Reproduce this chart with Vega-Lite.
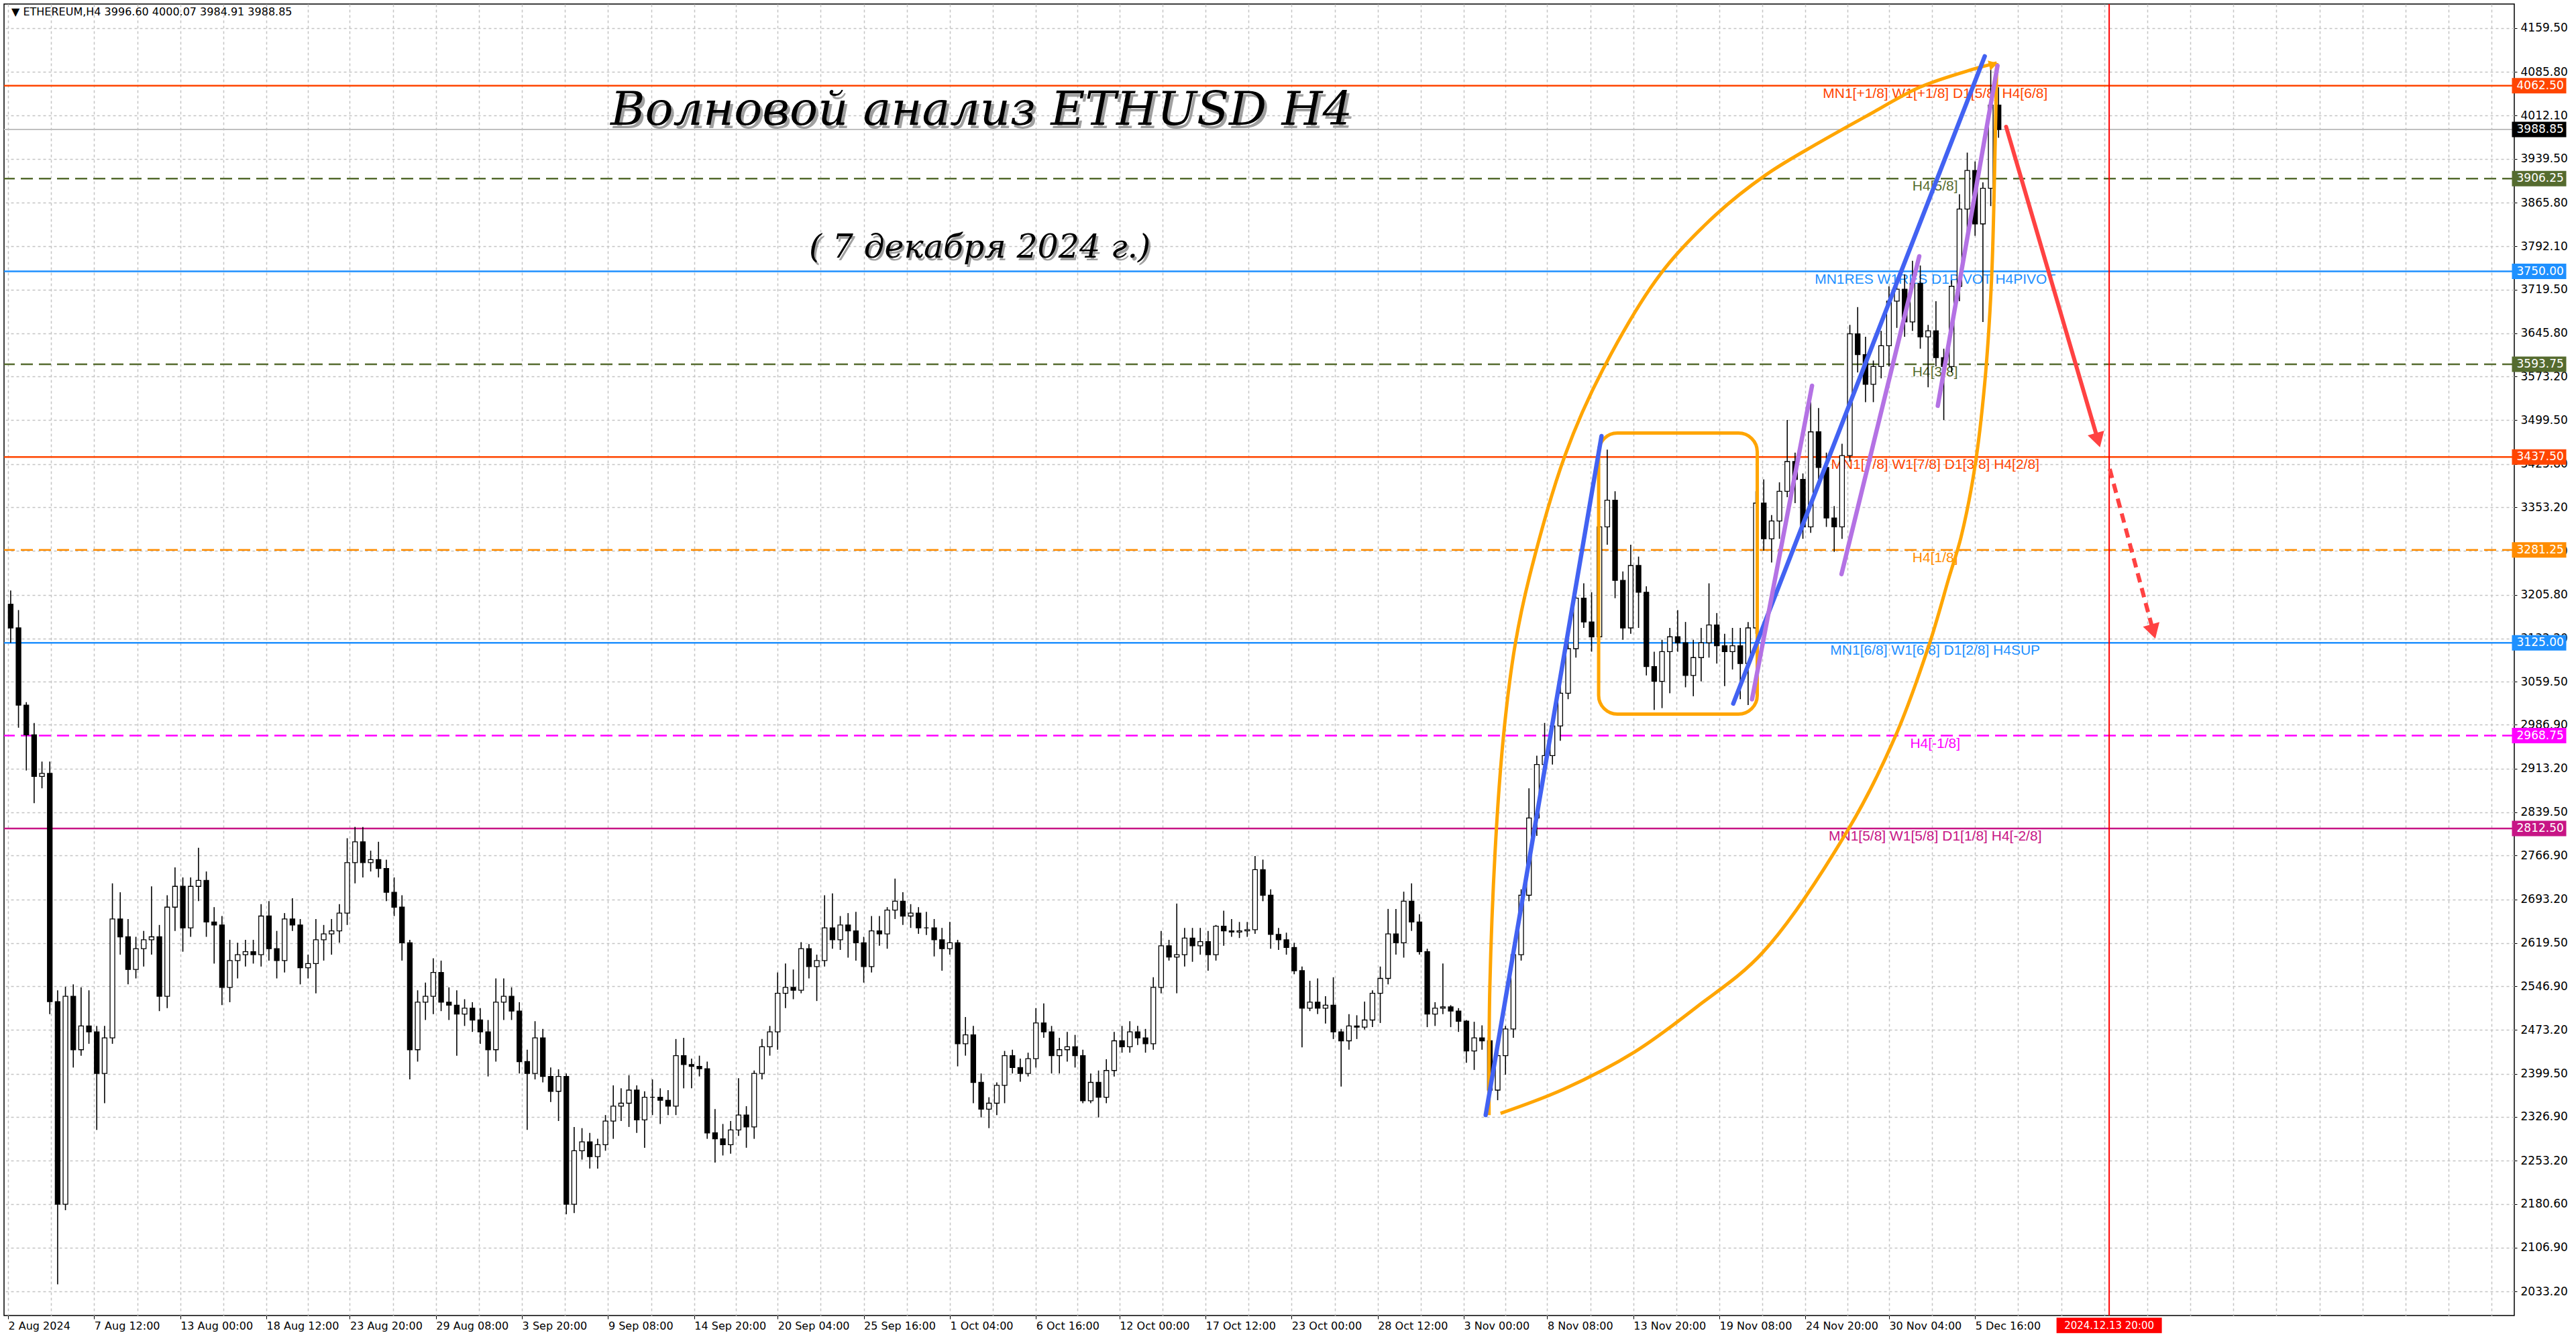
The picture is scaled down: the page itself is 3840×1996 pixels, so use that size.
{
  "$schema": "https://vega.github.io/schema/vega-lite/v6.json",
  "width": 3742,
  "height": 1955,
  "padding": {"left": 4, "top": 5, "right": 0, "bottom": 0},
  "background": "#ffffff",
  "config": {
    "view": {"stroke": "#000000", "strokeWidth": 1.5},
    "axis": {
      "labelFont": "DejaVu Sans",
      "labelColor": "#000000",
      "domain": false,
      "tickColor": "#000000",
      "gridColor": "#c4c4c4",
      "gridDash": [4, 4],
      "gridWidth": 1.5
    }
  },
  "datasets": {
    "candles": [
      {"i":1,"o":3190,"h":3213,"l":3125,"c":3150},{"i":4,"o":3150,"h":3180,"l":2982,"c":3020},{"i":7,"o":3020,"h":3025,"l":2910,"c":2970},
      {"i":10,"o":2970,"h":2990,"l":2855,"c":2900},{"i":13,"o":2900,"h":2925,"l":2880,"c":2905},{"i":16,"o":2905,"h":2925,"l":2500,"c":2521},
      {"i":19,"o":2521,"h":2540,"l":2045,"c":2180},{"i":22,"o":2180,"h":2546,"l":2170,"c":2530},{"i":25,"o":2530,"h":2550,"l":2410,"c":2440},
      {"i":28,"o":2440,"h":2545,"l":2430,"c":2480},{"i":31,"o":2480,"h":2540,"l":2450,"c":2470},{"i":34,"o":2470,"h":2480,"l":2305,"c":2400},
      {"i":37,"o":2400,"h":2480,"l":2350,"c":2460},{"i":40,"o":2460,"h":2720,"l":2450,"c":2660},{"i":43,"o":2660,"h":2705,"l":2600,"c":2630},
      {"i":46,"o":2630,"h":2660,"l":2550,"c":2575},{"i":49,"o":2575,"h":2630,"l":2560,"c":2610},{"i":52,"o":2610,"h":2640,"l":2580,"c":2625},
      {"i":55,"o":2625,"h":2715,"l":2600,"c":2630},{"i":58,"o":2630,"h":2650,"l":2505,"c":2530},{"i":61,"o":2530,"h":2700,"l":2510,"c":2680},
      {"i":64,"o":2680,"h":2747,"l":2640,"c":2715},{"i":67,"o":2715,"h":2730,"l":2605,"c":2645},{"i":70,"o":2645,"h":2730,"l":2630,"c":2715},
      {"i":73,"o":2715,"h":2780,"l":2690,"c":2725},{"i":76,"o":2725,"h":2740,"l":2630,"c":2655},{"i":79,"o":2655,"h":2680,"l":2585,"c":2650},
      {"i":82,"o":2650,"h":2665,"l":2515,"c":2545},{"i":85,"o":2545,"h":2625,"l":2520,"c":2590},{"i":88,"o":2590,"h":2620,"l":2560,"c":2600},
      {"i":91,"o":2600,"h":2625,"l":2580,"c":2605},{"i":94,"o":2605,"h":2625,"l":2585,"c":2600},{"i":97,"o":2600,"h":2685,"l":2580,"c":2665},
      {"i":100,"o":2665,"h":2690,"l":2590,"c":2610},{"i":103,"o":2610,"h":2640,"l":2560,"c":2590},{"i":106,"o":2590,"h":2670,"l":2570,"c":2660},
      {"i":109,"o":2660,"h":2695,"l":2640,"c":2650},{"i":112,"o":2650,"h":2660,"l":2550,"c":2578},{"i":115,"o":2578,"h":2600,"l":2560,"c":2585},
      {"i":118,"o":2585,"h":2660,"l":2535,"c":2625},{"i":121,"o":2625,"h":2650,"l":2590,"c":2635},{"i":124,"o":2635,"h":2660,"l":2600,"c":2640},
      {"i":127,"o":2640,"h":2685,"l":2620,"c":2670},{"i":130,"o":2670,"h":2796,"l":2650,"c":2755},{"i":133,"o":2755,"h":2815,"l":2720,"c":2790},
      {"i":136,"o":2790,"h":2815,"l":2730,"c":2755},{"i":139,"o":2755,"h":2775,"l":2740,"c":2760},{"i":142,"o":2760,"h":2790,"l":2730,"c":2745},
      {"i":145,"o":2745,"h":2760,"l":2690,"c":2705},{"i":148,"o":2705,"h":2730,"l":2665,"c":2680},{"i":151,"o":2680,"h":2700,"l":2590,"c":2620},
      {"i":154,"o":2620,"h":2625,"l":2390,"c":2440},{"i":157,"o":2440,"h":2540,"l":2420,"c":2520},{"i":160,"o":2520,"h":2553,"l":2490,"c":2530},
      {"i":163,"o":2530,"h":2594,"l":2500,"c":2570},{"i":166,"o":2570,"h":2590,"l":2505,"c":2520},{"i":169,"o":2520,"h":2545,"l":2490,"c":2515},
      {"i":172,"o":2515,"h":2540,"l":2430,"c":2500},{"i":175,"o":2500,"h":2525,"l":2480,"c":2510},{"i":178,"o":2510,"h":2520,"l":2470,"c":2490},
      {"i":181,"o":2490,"h":2510,"l":2450,"c":2470},{"i":184,"o":2470,"h":2490,"l":2395,"c":2440},{"i":187,"o":2440,"h":2560,"l":2420,"c":2520},
      {"i":190,"o":2520,"h":2560,"l":2490,"c":2530},{"i":193,"o":2530,"h":2545,"l":2490,"c":2505},{"i":196,"o":2505,"h":2520,"l":2400,"c":2420},
      {"i":199,"o":2420,"h":2440,"l":2305,"c":2400},{"i":202,"o":2400,"h":2488,"l":2390,"c":2460},{"i":205,"o":2460,"h":2475,"l":2385,"c":2395},
      {"i":208,"o":2395,"h":2410,"l":2352,"c":2370},{"i":211,"o":2370,"h":2407,"l":2320,"c":2395},{"i":214,"o":2395,"h":2400,"l":2163,"c":2180},
      {"i":217,"o":2180,"h":2310,"l":2165,"c":2270},{"i":220,"o":2270,"h":2308,"l":2255,"c":2285},{"i":223,"o":2285,"h":2300,"l":2240,"c":2260},
      {"i":226,"o":2260,"h":2290,"l":2240,"c":2280},{"i":229,"o":2280,"h":2330,"l":2270,"c":2320},{"i":232,"o":2320,"h":2380,"l":2290,"c":2345},
      {"i":235,"o":2345,"h":2375,"l":2320,"c":2350},{"i":238,"o":2350,"h":2397,"l":2310,"c":2372},{"i":241,"o":2372,"h":2380,"l":2300,"c":2322},
      {"i":244,"o":2322,"h":2370,"l":2275,"c":2360},{"i":247,"o":2360,"h":2390,"l":2330,"c":2360},{"i":250,"o":2360,"h":2375,"l":2315,"c":2355},
      {"i":253,"o":2355,"h":2372,"l":2330,"c":2345},{"i":256,"o":2345,"h":2458,"l":2330,"c":2430},{"i":259,"o":2430,"h":2460,"l":2375,"c":2415},
      {"i":262,"o":2415,"h":2425,"l":2375,"c":2412},{"i":265,"o":2412,"h":2430,"l":2395,"c":2408},{"i":268,"o":2408,"h":2420,"l":2290,"c":2300},
      {"i":271,"o":2300,"h":2340,"l":2250,"c":2290},{"i":274,"o":2290,"h":2315,"l":2262,"c":2280},{"i":277,"o":2280,"h":2320,"l":2265,"c":2305},
      {"i":280,"o":2305,"h":2392,"l":2295,"c":2330},{"i":283,"o":2330,"h":2345,"l":2275,"c":2310},{"i":286,"o":2310,"h":2405,"l":2290,"c":2400},
      {"i":289,"o":2400,"h":2458,"l":2390,"c":2445},{"i":292,"o":2445,"h":2480,"l":2430,"c":2470},{"i":295,"o":2470,"h":2570,"l":2440,"c":2535},
      {"i":298,"o":2535,"h":2585,"l":2510,"c":2545},{"i":301,"o":2545,"h":2575,"l":2525,"c":2540},{"i":304,"o":2540,"h":2621,"l":2535,"c":2610},
      {"i":307,"o":2610,"h":2618,"l":2560,"c":2580},{"i":310,"o":2580,"h":2600,"l":2522,"c":2590},{"i":313,"o":2590,"h":2700,"l":2580,"c":2645},
      {"i":316,"o":2645,"h":2703,"l":2610,"c":2625},{"i":319,"o":2625,"h":2665,"l":2608,"c":2650},{"i":322,"o":2650,"h":2670,"l":2595,"c":2640},
      {"i":325,"o":2640,"h":2672,"l":2590,"c":2620},{"i":328,"o":2620,"h":2630,"l":2553,"c":2580},{"i":331,"o":2580,"h":2665,"l":2570,"c":2640},
      {"i":334,"o":2640,"h":2665,"l":2615,"c":2635},{"i":337,"o":2635,"h":2680,"l":2610,"c":2675},{"i":340,"o":2675,"h":2728,"l":2660,"c":2690},
      {"i":343,"o":2690,"h":2705,"l":2650,"c":2665},{"i":346,"o":2665,"h":2685,"l":2645,"c":2670},{"i":349,"o":2670,"h":2680,"l":2635,"c":2645},
      {"i":352,"o":2645,"h":2672,"l":2633,"c":2645},{"i":355,"o":2645,"h":2660,"l":2597,"c":2625},{"i":358,"o":2625,"h":2645,"l":2573,"c":2610},
      {"i":361,"o":2610,"h":2655,"l":2600,"c":2620},{"i":364,"o":2620,"h":2625,"l":2412,"c":2450},{"i":367,"o":2450,"h":2495,"l":2430,"c":2465},
      {"i":370,"o":2465,"h":2480,"l":2350,"c":2385},{"i":373,"o":2385,"h":2400,"l":2326,"c":2340},{"i":376,"o":2340,"h":2360,"l":2308,"c":2350},
      {"i":379,"o":2350,"h":2385,"l":2330,"c":2380},{"i":382,"o":2380,"h":2438,"l":2350,"c":2430},{"i":385,"o":2430,"h":2440,"l":2400,"c":2410},
      {"i":388,"o":2410,"h":2425,"l":2386,"c":2400},{"i":391,"o":2400,"h":2435,"l":2395,"c":2425},{"i":394,"o":2425,"h":2510,"l":2410,"c":2485},
      {"i":397,"o":2485,"h":2518,"l":2460,"c":2470},{"i":400,"o":2470,"h":2480,"l":2400,"c":2430},{"i":403,"o":2430,"h":2460,"l":2400,"c":2440},
      {"i":406,"o":2440,"h":2470,"l":2420,"c":2445},{"i":409,"o":2445,"h":2465,"l":2410,"c":2430},{"i":412,"o":2430,"h":2440,"l":2350,"c":2354},
      {"i":415,"o":2354,"h":2400,"l":2350,"c":2385},{"i":418,"o":2385,"h":2405,"l":2326,"c":2360},{"i":421,"o":2360,"h":2424,"l":2350,"c":2405},
      {"i":424,"o":2405,"h":2470,"l":2395,"c":2455},{"i":427,"o":2455,"h":2480,"l":2435,"c":2445},{"i":430,"o":2445,"h":2488,"l":2435,"c":2470},
      {"i":433,"o":2470,"h":2480,"l":2448,"c":2460},{"i":436,"o":2460,"h":2475,"l":2435,"c":2450},{"i":439,"o":2450,"h":2562,"l":2440,"c":2545},
      {"i":442,"o":2545,"h":2640,"l":2535,"c":2615},{"i":445,"o":2615,"h":2625,"l":2590,"c":2596},{"i":448,"o":2596,"h":2686,"l":2535,"c":2600},
      {"i":451,"o":2600,"h":2645,"l":2580,"c":2628},{"i":454,"o":2628,"h":2645,"l":2588,"c":2615},{"i":457,"o":2615,"h":2645,"l":2600,"c":2622},
      {"i":460,"o":2622,"h":2640,"l":2573,"c":2600},{"i":463,"o":2600,"h":2650,"l":2590,"c":2648},{"i":466,"o":2648,"h":2674,"l":2615,"c":2640},
      {"i":469,"o":2640,"h":2660,"l":2630,"c":2638},{"i":472,"o":2638,"h":2655,"l":2628,"c":2640},{"i":475,"o":2640,"h":2655,"l":2630,"c":2642},
      {"i":478,"o":2642,"h":2766,"l":2635,"c":2743},{"i":481,"o":2743,"h":2760,"l":2690,"c":2700},{"i":484,"o":2700,"h":2710,"l":2610,"c":2634},
      {"i":487,"o":2634,"h":2645,"l":2608,"c":2625},{"i":490,"o":2625,"h":2637,"l":2600,"c":2612},{"i":493,"o":2612,"h":2620,"l":2567,"c":2573},
      {"i":496,"o":2573,"h":2580,"l":2444,"c":2510},{"i":499,"o":2510,"h":2556,"l":2505,"c":2520},{"i":502,"o":2520,"h":2560,"l":2500,"c":2510},
      {"i":505,"o":2510,"h":2530,"l":2484,"c":2515},{"i":508,"o":2515,"h":2562,"l":2458,"c":2470},{"i":511,"o":2470,"h":2475,"l":2378,"c":2455},
      {"i":514,"o":2455,"h":2500,"l":2440,"c":2480},{"i":517,"o":2480,"h":2498,"l":2458,"c":2478},{"i":520,"o":2478,"h":2521,"l":2474,"c":2490},
      {"i":523,"o":2490,"h":2540,"l":2478,"c":2535},{"i":526,"o":2535,"h":2580,"l":2485,"c":2560},{"i":529,"o":2560,"h":2677,"l":2550,"c":2635},
      {"i":532,"o":2635,"h":2677,"l":2600,"c":2620},{"i":535,"o":2620,"h":2706,"l":2595,"c":2690},{"i":538,"o":2690,"h":2720,"l":2640,"c":2655},
      {"i":541,"o":2655,"h":2668,"l":2600,"c":2605},{"i":544,"o":2605,"h":2610,"l":2478,"c":2500},{"i":547,"o":2500,"h":2520,"l":2480,"c":2510},
      {"i":550,"o":2510,"h":2585,"l":2500,"c":2512},{"i":553,"o":2512,"h":2515,"l":2478,"c":2505},{"i":556,"o":2505,"h":2510,"l":2470,"c":2488},
      {"i":559,"o":2488,"h":2490,"l":2418,"c":2438},{"i":562,"o":2438,"h":2487,"l":2406,"c":2460},{"i":565,"o":2460,"h":2481,"l":2440,"c":2455},
      {"i":568,"o":2455,"h":2462,"l":2340,"c":2372},{"i":571,"o":2372,"h":2445,"l":2355,"c":2430},{"i":574,"o":2430,"h":2480,"l":2398,"c":2475},
      {"i":577,"o":2475,"h":2620,"l":2460,"c":2600},{"i":580,"o":2600,"h":2710,"l":2590,"c":2700},{"i":583,"o":2700,"h":2880,"l":2690,"c":2830},
      {"i":586,"o":2830,"h":2935,"l":2800,"c":2920},{"i":589,"o":2920,"h":2990,"l":2900,"c":2935},{"i":592,"o":2935,"h":3000,"l":2920,"c":2985},
      {"i":595,"o":2985,"h":3060,"l":2960,"c":3040},{"i":598,"o":3040,"h":3130,"l":3030,"c":3115},{"i":601,"o":3115,"h":3215,"l":3100,"c":3200},
      {"i":604,"o":3200,"h":3225,"l":3150,"c":3160},{"i":607,"o":3160,"h":3210,"l":3110,"c":3135},{"i":610,"o":3135,"h":3345,"l":3120,"c":3320},
      {"i":613,"o":3320,"h":3450,"l":3290,"c":3365},{"i":616,"o":3365,"h":3380,"l":3200,"c":3230},{"i":619,"o":3230,"h":3245,"l":3130,"c":3150},
      {"i":622,"o":3150,"h":3290,"l":3140,"c":3255},{"i":625,"o":3255,"h":3270,"l":3150,"c":3210},{"i":628,"o":3210,"h":3220,"l":3070,"c":3085},
      {"i":631,"o":3085,"h":3110,"l":3012,"c":3060},{"i":634,"o":3060,"h":3130,"l":3015,"c":3110},{"i":637,"o":3110,"h":3150,"l":3040,"c":3135},
      {"i":640,"o":3135,"h":3180,"l":3110,"c":3125},{"i":643,"o":3125,"h":3160,"l":3050,"c":3070},{"i":646,"o":3070,"h":3130,"l":3035,"c":3100},
      {"i":649,"o":3100,"h":3150,"l":3060,"c":3125},{"i":652,"o":3125,"h":3225,"l":3100,"c":3155},{"i":655,"o":3155,"h":3175,"l":3090,"c":3120},
      {"i":658,"o":3120,"h":3140,"l":3052,"c":3110},{"i":661,"o":3110,"h":3150,"l":3080,"c":3120},{"i":664,"o":3120,"h":3150,"l":3030,"c":3090},
      {"i":667,"o":3090,"h":3160,"l":3020,"c":3150},{"i":670,"o":3150,"h":3380,"l":3140,"c":3360},{"i":673,"o":3360,"h":3400,"l":3280,"c":3300},
      {"i":676,"o":3300,"h":3340,"l":3260,"c":3330},{"i":679,"o":3330,"h":3395,"l":3300,"c":3380},{"i":682,"o":3380,"h":3500,"l":3370,"c":3430},
      {"i":685,"o":3430,"h":3445,"l":3360,"c":3400},{"i":688,"o":3400,"h":3410,"l":3300,"c":3320},{"i":691,"o":3320,"h":3530,"l":3310,"c":3480},
      {"i":694,"o":3480,"h":3520,"l":3400,"c":3420},{"i":697,"o":3420,"h":3445,"l":3320,"c":3335},{"i":700,"o":3335,"h":3355,"l":3278,"c":3320},
      {"i":703,"o":3320,"h":3460,"l":3300,"c":3440},{"i":706,"o":3440,"h":3660,"l":3430,"c":3645},{"i":709,"o":3645,"h":3690,"l":3580,"c":3610},
      {"i":712,"o":3610,"h":3640,"l":3530,"c":3560},{"i":715,"o":3560,"h":3600,"l":3530,"c":3590},{"i":718,"o":3590,"h":3650,"l":3570,"c":3625},
      {"i":721,"o":3625,"h":3725,"l":3590,"c":3700},{"i":724,"o":3700,"h":3740,"l":3655,"c":3720},{"i":727,"o":3720,"h":3745,"l":3640,"c":3665},
      {"i":730,"o":3665,"h":3768,"l":3650,"c":3730},{"i":733,"o":3730,"h":3760,"l":3620,"c":3640},{"i":736,"o":3640,"h":3660,"l":3555,"c":3650},
      {"i":739,"o":3650,"h":3700,"l":3590,"c":3605},{"i":742,"o":3605,"h":3620,"l":3500,"c":3590},{"i":745,"o":3590,"h":3735,"l":3580,"c":3725},
      {"i":748,"o":3725,"h":3880,"l":3700,"c":3855},{"i":751,"o":3855,"h":3950,"l":3800,"c":3920},{"i":754,"o":3920,"h":3935,"l":3810,"c":3830},
      {"i":757,"o":3830,"h":3900,"l":3665,"c":3890},{"i":760,"o":3890,"h":4100,"l":3860,"c":4030},{"i":763,"o":4030,"h":4060,"l":3975,"c":3988.85}
    ],
    "levels": [
      {"p":4062.5,"lv":"a","t":"MN1[+1/8] W1[+1/8] D1[5/8] H4[6/8]"},
      {"p":3906.25,"lv":"b","t":"H4[5/8]"},
      {"p":3750,"lv":"c","t":"MN1RES W1RES D1PIVOT H4PIVOT"},
      {"p":3593.75,"lv":"b","t":"H4[3/8]"},
      {"p":3437.5,"lv":"a","t":"MN1[7/8] W1[7/8] D1[3/8] H4[2/8]"},
      {"p":3281.25,"lv":"d","t":"H4[1/8]"},
      {"p":3125,"lv":"c","t":"MN1[6/8] W1[6/8] D1[2/8] H4SUP"},
      {"p":2968.75,"lv":"e","t":"H4[-1/8]"},
      {"p":2812.5,"lv":"f","t":"MN1[5/8] W1[5/8] D1[1/8] H4[-2/8]"}
    ],
    "boxes": [
      {"p":4062.5,"lv":"a"},{"p":3988.85,"lv":"g"},{"p":3906.25,"lv":"b"},{"p":3750,"lv":"c"},{"p":3593.75,"lv":"b"},
      {"p":3437.5,"lv":"a"},{"p":3281.25,"lv":"d"},{"p":3125,"lv":"c"},{"p":2968.75,"lv":"e"},{"p":2812.5,"lv":"f"}
    ],
    "draw": [
      {"g":"e1","n":0,"i":567.7,"p":2329.9},{"g":"e1","n":1,"i":568.0,"p":2546.1},{"g":"e1","n":2,"i":570.5,"p":2810.9},
      {"g":"e1","n":3,"i":573.6,"p":2984.2},{"g":"e1","n":4,"i":577.7,"p":3121.9},{"g":"e1","n":5,"i":583.1,"p":3234.8},
      {"g":"e1","n":6,"i":596.9,"p":3441.4},{"g":"e1","n":7,"i":611.3,"p":3584.8},{"g":"e1","n":8,"i":633.5,"p":3746.3},
      {"g":"e1","n":9,"i":654.4,"p":3844.5},{"g":"e1","n":10,"i":674.1,"p":3913.4},{"g":"e1","n":11,"i":693.6,"p":3965.3},
      {"g":"e1","n":12,"i":713.3,"p":4013.8},{"g":"e1","n":13,"i":732.8,"p":4060.1},{"g":"e1","n":14,"i":752.6,"p":4089.5},
      {"g":"e1","n":15,"i":762.3,"p":4100.8},
      {"g":"e2","n":0,"i":762.3,"p":4100.8},{"g":"e2","n":1,"i":761.7,"p":3965.3},{"g":"e2","n":2,"i":760.3,"p":3735},
      {"g":"e2","n":3,"i":757.7,"p":3562.2},{"g":"e2","n":4,"i":753.8,"p":3417.7},{"g":"e2","n":5,"i":748.6,"p":3302.6},
      {"g":"e2","n":6,"i":744.0,"p":3234.8},{"g":"e2","n":7,"i":736.4,"p":3121.9},{"g":"e2","n":8,"i":723.3,"p":2966.1},
      {"g":"e2","n":9,"i":705.4,"p":2810.9},{"g":"e2","n":10,"i":672.6,"p":2603.7},{"g":"e2","n":11,"i":647.4,"p":2512.3},
      {"g":"e2","n":12,"i":623.6,"p":2436.6},{"g":"e2","n":13,"i":596.2,"p":2373.4},{"g":"e2","n":14,"i":572.1,"p":2332.8},
      {"g":"b1","n":0,"i":566.4,"p":2329.9},{"g":"b1","n":1,"i":610.8,"p":3473},
      {"g":"b2","n":0,"i":661.3,"p":3022.6},{"g":"b2","n":1,"i":757.7,"p":4112.1},
      {"g":"p1","n":0,"i":668.5,"p":3029.8},{"g":"p1","n":1,"i":691.5,"p":3557.7},
      {"g":"p2","n":0,"i":702.8,"p":3240.5},{"g":"p2","n":1,"i":732.6,"p":3775.6},
      {"g":"p3","n":0,"i":739.7,"p":3523.9},{"g":"p3","n":1,"i":762.6,"p":4096.3},
      {"g":"r1","n":0,"i":765.9,"p":3993.5},{"g":"r1","n":1,"i":801.1,"p":3466},
      {"g":"r2","n":0,"i":805.6,"p":3417.7},{"g":"r2","n":1,"i":822.3,"p":3144}
    ],
    "heads": [{"i":801.1,"p":3466},{"i":822.3,"p":3144}],
    "frame": [{"i1":609.7,"i2":670.5,"p1":3478,"p2":3005}]
  },
  "layer": [
    {
      "data": {"name": "levels"},
      "mark": {"type": "rule", "strokeWidth": 2.5},
      "encoding": {
        "y": {"field": "p", "type": "quantitative", "title": null, "scale": {"domain": [1992.6, 4200.1], "nice": false, "zero": false}},
        "color": {"field": "lv", "type": "nominal", "legend": null, "scale": {"domain": ["a","b","c","d","e","f","g"], "range": ["#FF4500","#556B2F","#1E90FF","#FF8C00","#FF00FF","#C71585","#000000"]}},
        "strokeDash": {"field": "lv", "type": "nominal", "legend": null, "scale": {"domain": ["a","b","c","d","e","f"], "range": [[1,0],[18,9],[1,0],[18,9],[18,9],[1,0]]}}
      }
    },
    {
      "data": {"values": [{}]},
      "mark": {"type": "rule", "color": "#c0c0c0", "strokeWidth": 2},
      "encoding": {"y": {"datum": 3988.85, "type": "quantitative"}}
    },
    {
      "data": {"values": [{}]},
      "mark": {"type": "rule", "color": "#ff0000", "strokeWidth": 2},
      "encoding": {"x": {"datum": 805.4, "type": "quantitative"}}
    },
    {
      "data": {"name": "levels"},
      "mark": {"type": "text", "font": "Liberation Sans", "fontSize": 21, "align": "center", "baseline": "middle", "dy": 12},
      "encoding": {
        "x": {"datum": 738.7, "type": "quantitative"},
        "y": {"field": "p", "type": "quantitative", "title": null},
        "text": {"field": "t"},
        "color": {"field": "lv", "type": "nominal", "legend": null, "scale": {"domain": ["a","b","c","d","e","f","g"], "range": ["#FF4500","#556B2F","#1E90FF","#FF8C00","#FF00FF","#C71585","#000000"]}}
      }
    },
    {
      "data": {"name": "candles"},
      "mark": {"type": "rule", "color": "#000000", "strokeWidth": 1.6},
      "encoding": {
        "x": {
          "field": "i", "type": "quantitative", "title": null,
          "scale": {"domain": [-0.26, 959.4], "nice": false, "zero": false},
          "axis": {
            "orient": "bottom",
            "values": [0,16.5,33,49.5,66,82.5,99,115,131,147.5,164,180.5,197,213.5,230,246.5,263,279,295,311.5,328,344.5,361,377.5,394,410,426,442.5,459,475.5,492,508.5,525,541.5,558,574,590,606.5,623,639.5,656,672.5,689,705,721,737.5,754,770.5,787,803.5,820,836.5,853,869.5,886,902.5,919,935.5,952],
            "labelExpr": "indexof([0,33,66,99,131,164,197,230,263,295,328,361,394,426,459,492,525,558,590,623,656,689,721,754], datum.value) >= 0 ? ['2 Aug 2024','7 Aug 12:00','13 Aug 00:00','18 Aug 12:00','23 Aug 20:00','29 Aug 08:00','3 Sep 20:00','9 Sep 08:00','14 Sep 20:00','20 Sep 04:00','25 Sep 16:00','1 Oct 04:00','6 Oct 16:00','12 Oct 00:00','17 Oct 12:00','23 Oct 00:00','28 Oct 12:00','3 Nov 00:00','8 Nov 08:00','13 Nov 20:00','19 Nov 08:00','24 Nov 20:00','30 Nov 04:00','5 Dec 16:00'][indexof([0,33,66,99,131,164,197,230,263,295,328,361,394,426,459,492,525,558,590,623,656,689,721,754], datum.value)] : ''",
            "tickOpacity": {"condition": {"test": "indexof([0,33,66,99,131,164,197,230,263,295,328,361,394,426,459,492,525,558,590,623,656,689,721,754], datum.value) >= 0", "value": 1}, "value": 0},
            "labelAlign": "left",
            "labelFlush": false,
            "labelOverlap": false,
            "labelFontSize": 16,
            "labelPadding": 2,
            "tickSize": 5,
            "grid": true,
            "zindex": 0
          }
        },
        "y": {
          "field": "l", "type": "quantitative", "title": null,
          "scale": {"domain": [1992.6, 4200.1], "nice": false, "zero": false},
          "axis": {
            "orient": "right",
            "values": [4159.5,4085.8,4012.1,3939.5,3865.8,3792.1,3719.5,3645.8,3573.2,3499.5,3425.8,3353.2,3279.5,3205.8,3132.2,3059.5,2986.9,2913.2,2839.5,2766.9,2693.2,2619.5,2546.9,2473.2,2399.5,2326.9,2253.2,2180.6,2106.9,2033.2],
            "format": ".2f",
            "labelFontSize": 17,
            "labelPadding": 5,
            "tickSize": 4,
            "labelOverlap": false,
            "grid": true,
            "zindex": 0
          }
        },
        "y2": {"field": "h"}
      }
    },
    {
      "data": {"name": "candles"},
      "mark": {"type": "bar", "orient": "vertical", "size": 7, "stroke": "#000000", "strokeWidth": 1.3},
      "encoding": {
        "x": {"field": "i", "type": "quantitative", "title": null},
        "y": {"field": "o", "type": "quantitative", "title": null},
        "y2": {"field": "c"},
        "fill": {"condition": {"test": "datum.c >= datum.o", "value": "#ffffff"}, "value": "#000000"}
      }
    },
    {
      "data": {"name": "frame"},
      "mark": {"type": "rect", "fillOpacity": 0, "stroke": "#FFA500", "strokeWidth": 5, "cornerRadius": 28},
      "encoding": {
        "x": {"field": "i1", "type": "quantitative", "title": null},
        "x2": {"field": "i2"},
        "y": {"field": "p1", "type": "quantitative", "title": null},
        "y2": {"field": "p2"}
      }
    },
    {
      "data": {"name": "draw"},
      "transform": [{"filter": "datum.g == 'e1' || datum.g == 'e2'"}],
      "mark": {"type": "line", "color": "#FFA500", "strokeWidth": 5, "interpolate": "catmull-rom"},
      "encoding": {
        "x": {"field": "i", "type": "quantitative", "title": null},
        "y": {"field": "p", "type": "quantitative", "title": null},
        "detail": {"field": "g"},
        "order": {"field": "n", "type": "quantitative"}
      }
    },
    {
      "data": {"values": [{}]},
      "mark": {"type": "point", "shape": "triangle-right", "filled": true, "size": 230, "angle": 345, "color": "#FFA500", "opacity": 1},
      "encoding": {"x": {"datum": 761.0, "type": "quantitative"}, "y": {"datum": 4098.5, "type": "quantitative"}}
    },
    {
      "data": {"name": "draw"},
      "transform": [{"filter": "datum.g == 'b1' || datum.g == 'b2'"}],
      "mark": {"type": "line", "color": "#4262F2", "strokeWidth": 6.5, "strokeCap": "round"},
      "encoding": {
        "x": {"field": "i", "type": "quantitative", "title": null},
        "y": {"field": "p", "type": "quantitative", "title": null},
        "detail": {"field": "g"},
        "order": {"field": "n", "type": "quantitative"}
      }
    },
    {
      "data": {"name": "draw"},
      "transform": [{"filter": "datum.g == 'p1' || datum.g == 'p2' || datum.g == 'p3'"}],
      "mark": {"type": "line", "color": "#B472E4", "strokeWidth": 6.5, "strokeCap": "round"},
      "encoding": {
        "x": {"field": "i", "type": "quantitative", "title": null},
        "y": {"field": "p", "type": "quantitative", "title": null},
        "detail": {"field": "g"},
        "order": {"field": "n", "type": "quantitative"}
      }
    },
    {
      "data": {"name": "draw"},
      "transform": [{"filter": "datum.g == 'r1'"}],
      "mark": {"type": "line", "color": "#FF4242", "strokeWidth": 6, "strokeCap": "round"},
      "encoding": {
        "x": {"field": "i", "type": "quantitative", "title": null},
        "y": {"field": "p", "type": "quantitative", "title": null},
        "order": {"field": "n", "type": "quantitative"}
      }
    },
    {
      "data": {"name": "draw"},
      "transform": [{"filter": "datum.g == 'r2'"}],
      "mark": {"type": "line", "color": "#FF4242", "strokeWidth": 6, "strokeDash": [14, 9]},
      "encoding": {
        "x": {"field": "i", "type": "quantitative", "title": null},
        "y": {"field": "p", "type": "quantitative", "title": null},
        "order": {"field": "n", "type": "quantitative"}
      }
    },
    {
      "data": {"name": "heads"},
      "mark": {"type": "point", "shape": "triangle-down", "filled": true, "size": 650, "angle": 344, "color": "#FF4242", "opacity": 1},
      "encoding": {
        "x": {"field": "i", "type": "quantitative", "title": null},
        "y": {"field": "p", "type": "quantitative", "title": null}
      }
    },
    {
      "data": {"values": [{}]},
      "mark": {"type": "text", "font": "DejaVu Serif", "fontStyle": "italic", "fontSize": 70, "align": "center", "baseline": "middle", "color": "#7a7a7a", "opacity": 0.7, "dx": 4, "dy": 5, "text": "Волновой анализ ETHUSD H4"},
      "encoding": {"x": {"datum": 373.1, "type": "quantitative"}, "y": {"datum": 4020.6, "type": "quantitative"}}
    },
    {
      "data": {"values": [{}]},
      "mark": {"type": "text", "font": "DejaVu Serif", "fontStyle": "italic", "fontSize": 70, "align": "center", "baseline": "middle", "color": "#000000", "text": "Волновой анализ ETHUSD H4"},
      "encoding": {"x": {"datum": 373.1, "type": "quantitative"}, "y": {"datum": 4020.6, "type": "quantitative"}}
    },
    {
      "data": {"values": [{}]},
      "mark": {"type": "text", "font": "DejaVu Serif", "fontStyle": "italic", "fontSize": 49, "align": "center", "baseline": "middle", "color": "#7a7a7a", "opacity": 0.7, "dx": 3, "dy": 4, "text": "( 7 декабря 2024 г.)"},
      "encoding": {"x": {"datum": 372.5, "type": "quantitative"}, "y": {"datum": 3790.3, "type": "quantitative"}}
    },
    {
      "data": {"values": [{}]},
      "mark": {"type": "text", "font": "DejaVu Serif", "fontStyle": "italic", "fontSize": 49, "align": "center", "baseline": "middle", "color": "#000000", "text": "( 7 декабря 2024 г.)"},
      "encoding": {"x": {"datum": 372.5, "type": "quantitative"}, "y": {"datum": 3790.3, "type": "quantitative"}}
    },
    {
      "data": {"values": [{}]},
      "mark": {"type": "text", "font": "DejaVu Sans", "fontSize": 16, "align": "left", "baseline": "middle", "color": "#000000", "text": "▼ ETHEREUM,H4  3996.60 4000.07 3984.91 3988.85"},
      "encoding": {"x": {"datum": 1.3, "type": "quantitative"}, "y": {"datum": 4186.6, "type": "quantitative"}}
    },
    {
      "data": {"name": "boxes"},
      "mark": {"type": "tick", "orient": "horizontal", "size": 81, "thickness": 23, "opacity": 1},
      "encoding": {
        "x": {"datum": 970.2, "type": "quantitative"},
        "y": {"field": "p", "type": "quantitative", "title": null},
        "color": {"field": "lv", "type": "nominal", "legend": null, "scale": {"domain": ["a","b","c","d","e","f","g"], "range": ["#FF4500","#556B2F","#1E90FF","#FF8C00","#FF00FF","#C71585","#000000"]}}
      }
    },
    {
      "data": {"name": "boxes"},
      "mark": {"type": "text", "font": "DejaVu Sans", "fontSize": 17, "align": "left", "baseline": "middle", "color": "#ffffff"},
      "encoding": {
        "x": {"datum": 961.6, "type": "quantitative"},
        "y": {"field": "p", "type": "quantitative", "title": null},
        "text": {"field": "p", "type": "quantitative", "format": ".2f"}
      }
    },
    {
      "data": {"values": [{}]},
      "mark": {"type": "tick", "orient": "horizontal", "size": 157, "thickness": 23, "color": "#ff0000", "opacity": 1},
      "encoding": {"x": {"datum": 805.4, "type": "quantitative"}, "y": {"datum": 1976, "type": "quantitative"}}
    },
    {
      "data": {"values": [{}]},
      "mark": {"type": "text", "font": "DejaVu Sans", "fontSize": 15, "align": "center", "baseline": "middle", "color": "#ffffff", "text": "2024.12.13 20:00"},
      "encoding": {"x": {"datum": 805.4, "type": "quantitative"}, "y": {"datum": 1976, "type": "quantitative"}}
    }
  ]
}
